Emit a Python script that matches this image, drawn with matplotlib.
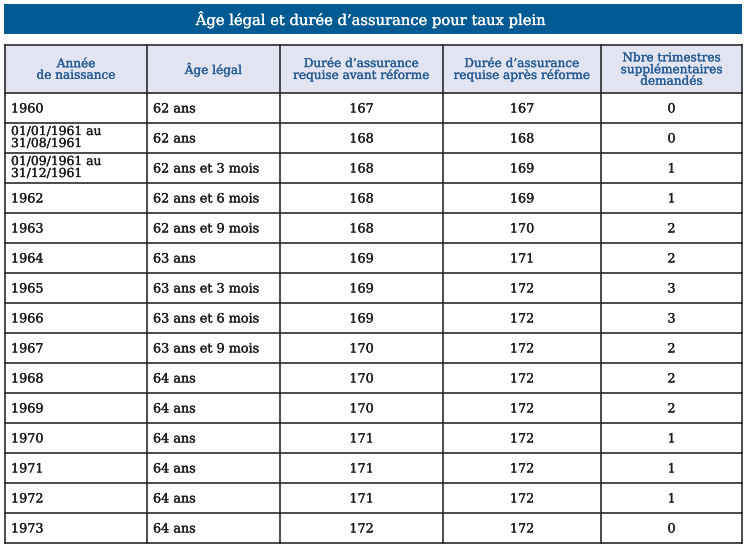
import matplotlib.pyplot as plt
import matplotlib.patheffects as pe

# table content
title = "Âge légal et durée d\u2019assurance pour taux plein"
headers = ["Année\nde naissance", "Âge légal", "Durée d\u2019assurance\nrequise avant réforme",
           "Durée d\u2019assurance\nrequise après réforme", "Nbre trimestres\nsupplémentaires\ndemandés"]
naissance = ["1960", "01/01/1961 au\n31/08/1961", "01/09/1961 au\n31/12/1961", "1962", "1963",
             "1964", "1965", "1966", "1967", "1968", "1969", "1970", "1971", "1972", "1973"]
age_legal = ["62 ans", "62 ans", "62 ans et 3 mois", "62 ans et 6 mois", "62 ans et 9 mois",
             "63 ans", "63 ans et 3 mois", "63 ans et 6 mois", "63 ans et 9 mois",
             "64 ans", "64 ans", "64 ans", "64 ans", "64 ans", "64 ans"]
avant = [167, 168, 168, 168, 168, 169, 169, 169, 170, 170, 170, 171, 171, 171, 172]
apres = [167, 168, 169, 169, 170, 171, 172, 172, 172, 172, 172, 172, 172, 172, 172]
supp = [0, 0, 1, 1, 2, 2, 3, 3, 2, 2, 2, 1, 1, 1, 0]

# layout in pixels
col_x = [5, 147, 280, 443, 601, 742]
head_top, head_bot = 45, 93
row_h = 30

blue = "#005a94"
head_bg = "#e2e5f1"
head_fg = "#245b97"
txt_c = "#1a1a1a"
line_c = "#222222"
font = "DejaVu Serif"
fs = 9.2


def thick(c):
    return [pe.withStroke(linewidth=0.2, foreground=c)]


fig = plt.figure(figsize=(7.47, 5.52), dpi=100)
ax = fig.add_axes([0, 0, 1, 1])
ax.set_xlim(0, 747)
ax.set_ylim(552, 0)
ax.axis("off")

# title bar
ax.add_patch(plt.Rectangle((4, 4), 738, 30, color=blue, lw=0))
ax.text(372, 19.5, title, color="white", fontsize=10.6, family=font,
        ha="center", va="center", path_effects=thick("white"))

# header
ax.add_patch(plt.Rectangle((col_x[0], head_top), col_x[-1] - col_x[0], head_bot - head_top,
                           color=head_bg, lw=0))
for i, h in enumerate(headers):
    cx = (col_x[i] + col_x[i + 1]) / 2
    ax.text(cx, (head_top + head_bot) / 2 + 0.5, h, color=head_fg, fontsize=8.7, family=font,
            ha="center", va="center", linespacing=0.85, path_effects=thick(head_fg))

# rows
n = len(naissance)
for r in range(n):
    cy = head_bot + row_h * r + row_h / 2 + 1
    if "\n" in naissance[r]:
        ax.text(col_x[0] + 6, cy - 1.5, naissance[r], fontsize=8.9, family=font, ha="left",
                va="center", linespacing=0.9, color=txt_c, path_effects=thick(txt_c))
    else:
        ax.text(col_x[0] + 6, cy, naissance[r], fontsize=fs, family=font, ha="left",
                va="center", color=txt_c, path_effects=thick(txt_c))
    ax.text(col_x[1] + 6, cy, age_legal[r], fontsize=fs, family=font, ha="left",
            va="center", color=txt_c, path_effects=thick(txt_c))
    for j, v in zip((2, 3, 4), (avant[r], apres[r], supp[r])):
        ax.text((col_x[j] + col_x[j + 1]) / 2, cy, str(v), fontsize=fs, family=font,
                ha="center", va="center", color=txt_c, path_effects=thick(txt_c))

# grid lines
bottom = head_bot + row_h * n
for x in col_x:
    ax.plot([x, x], [head_top, bottom], color=line_c, lw=1.15, solid_capstyle="projecting")
for y in [head_top, head_bot] + [head_bot + row_h * (r + 1) for r in range(n)]:
    ax.plot([col_x[0], col_x[-1]], [y, y], color=line_c, lw=1.15, solid_capstyle="projecting")

fig.savefig("out.png", dpi=100)
